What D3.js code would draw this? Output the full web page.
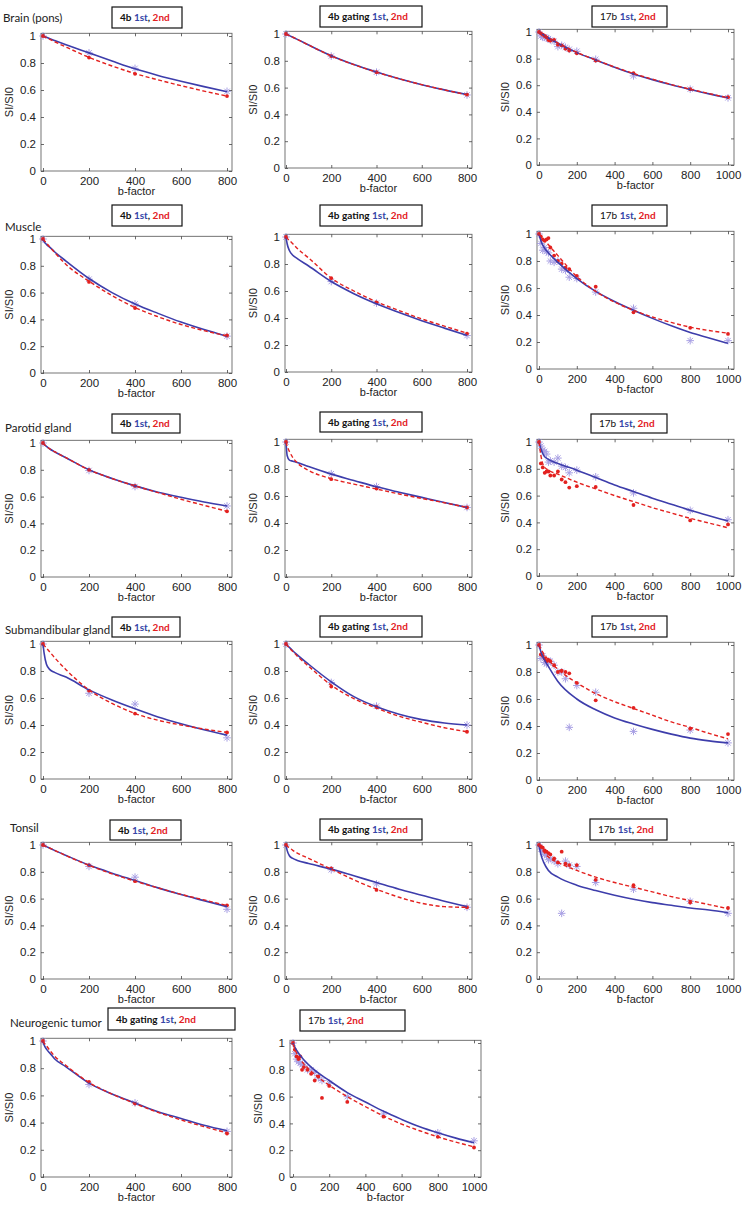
<!DOCTYPE html>
<html><head><meta charset="utf-8">
<script src="https://cdn.jsdelivr.net/npm/d3@7"></script>
<style>
body{margin:0;background:#fff;}
svg{display:block;}
</style></head>
<body>
<svg id="chart" width="744" height="1209"></svg>
<script>
// ---------- DATA ----------
const bPts4 = [0, 200, 400, 800];
const bPts17 = [0, 10, 20, 30, 40, 50, 60, 80, 100, 120, 140, 160, 200, 300, 500, 800, 1000];
const bFit4 = [0, 5, 15, 30, 50, 100, 200, 300, 400, 500, 600, 700, 800];
const bFit17 = [0, 10, 25, 50, 100, 200, 300, 400, 500, 600, 700, 800, 900, 1000];
const xTicks4 = [0, 200, 400, 600, 800];
const xTicks17 = [0, 200, 400, 600, 800, 1000];
const yTicks = [0, 0.2, 0.4, 0.6, 0.8, 1];
const rowLabels = ["Brain (pons)", "Muscle", "Parotid gland", "Submandibular gland", "Tonsil", "Neurogenic tumor"];
const protocolNames = ["4b", "4b gating", "17b"];

// Brain (pons)
const brain4b_1st_pts = [1, 0.875, 0.76, 0.59];
const brain4b_2nd_pts = [1, 0.84, 0.72, 0.555];
const brain4b_1st_fit = [1, .997, .99, .98, .967, .935, .875, .815, .757, .708, .665, .625, .588];
const brain4b_2nd_fit = [1, .996, .987, .975, .958, .918, .842, .778, .722, .675, .632, .592, .555];
const brain4bg_1st_pts = [1, 0.835, 0.715, 0.545];
const brain4bg_2nd_pts = [1, 0.835, 0.715, 0.548];
const brain4bg_1st_fit = [1, .996, .988, .976, .96, .918, .838, .772, .716, .666, .622, .583, .548];
const brain4bg_2nd_fit = [1, .996, .988, .976, .96, .918, .836, .771, .715, .666, .622, .583, .546];
const brain17b_1st_pts = [1, .97, .96, .96, .955, .95, .94, .93, .89, .9, .885, .87, .855, .795, .67, .57, .505];
const brain17b_2nd_pts = [1, .99, .98, .97, .96, .94, .935, .94, .905, .9, .875, .86, .84, .785, .69, .57, .51];
const brain17b_1st_fit = [1, .99, .977, .955, .915, .845, .79, .735, .685, .642, .603, .568, .535, .505];
const brain17b_2nd_fit = [1, .99, .978, .957, .917, .847, .79, .737, .688, .645, .605, .57, .537, .505];

// Muscle
const muscle4b_1st_pts = [1, 0.70, 0.515, 0.275];
const muscle4b_2nd_pts = [1, 0.68, 0.485, 0.28];
const muscle4b_1st_fit = [1, .98, .96, .937, .905, .835, .705, .6, .515, .445, .38, .325, .275];
const muscle4b_2nd_fit = [1, .99, .97, .94, .90, .81, .685, .578, .488, .42, .362, .316, .277];
const muscle4bg_1st_pts = [1, 0.67, 0.51, 0.27];
const muscle4bg_2nd_pts = [1, 0.695, 0.515, 0.285];
const muscle4bg_1st_fit = [1, .95, .9, .865, .84, .785, .67, .58, .505, .44, .38, .325, .272];
const muscle4bg_2nd_fit = [1, .99, .975, .95, .915, .845, .695, .6, .52, .455, .393, .34, .287];
const muscle17b_1st_pts = [1, .93, .88, .9, .87, .86, .8, .79, .8, .74, .73, .68, .67, .57, .45, .21, .21];
const muscle17b_2nd_pts = [1, .98, .96, .95, .96, .97, .9, .84, .8, .78, .75, .74, .69, .61, .42, .305, .26];
const muscle17b_1st_fit = [1, .95, .905, .86, .79, .67, .575, .5, .435, .375, .32, .27, .23, .19];
const muscle17b_2nd_fit = [1, .985, .96, .92, .84, .685, .575, .495, .435, .385, .345, .31, .285, .265];

// Parotid gland
const parotid4b_1st_pts = [1, 0.795, 0.675, 0.53];
const parotid4b_2nd_pts = [1, 0.80, 0.68, 0.49];
const parotid4b_1st_fit = [1, .99, .975, .955, .935, .89, .8, .735, .68, .633, .595, .56, .53];
const parotid4b_2nd_fit = [1, .99, .975, .955, .935, .89, .8, .735, .68, .63, .58, .535, .49];
const parotid4bg_1st_pts = [1, 0.765, 0.67, 0.515];
const parotid4bg_2nd_pts = [1, 0.725, 0.655, 0.515];
const parotid4bg_1st_fit = [1, .90, .866, .858, .848, .818, .762, .715, .668, .628, .59, .552, .515];
const parotid4bg_2nd_fit = [1, .97, .93, .885, .845, .79, .728, .688, .652, .615, .582, .55, .515];
const parotid17b_1st_pts = [1, .97, .94, .93, .91, .85, .86, .85, .88, .82, .81, .77, .79, .74, .62, .49, .42];
const parotid17b_2nd_pts = [1, .84, .81, .77, .78, .78, .75, .75, .78, .72, .70, .66, .67, .665, .53, .415, .385];
const parotid17b_1st_fit = [1, .95, .9, .87, .84, .79, .735, .68, .63, .58, .535, .49, .45, .41];
const parotid17b_2nd_fit = [1, .9, .82, .79, .76, .7, .65, .6, .555, .51, .47, .43, .395, .36];

// Submandibular gland
const submand4b_1st_pts = [1, 0.635, 0.555, 0.305];
const submand4b_2nd_pts = [1, 0.655, 0.485, 0.345];
const submand4b_1st_fit = [1, .93, .85, .81, .79, .755, .66, .585, .52, .46, .41, .365, .325];
const submand4b_2nd_fit = [1, .99, .97, .94, .9, .81, .66, .56, .485, .435, .4, .37, .345];
const submand4bg_1st_pts = [1, 0.715, 0.54, 0.40];
const submand4bg_2nd_pts = [1, 0.685, 0.535, 0.35];
const submand4bg_1st_fit = [1, .99, .975, .95, .92, .85, .72, .61, .535, .48, .44, .415, .40];
const submand4bg_2nd_fit = [1, .99, .97, .945, .91, .835, .695, .595, .525, .465, .42, .38, .35];
const submand17b_1st_pts = [1, .90, .92, .87, .86, .88, .88, .85, .80, .80, .75, .39, .70, .65, .36, .37, .275];
const submand17b_2nd_pts = [1, .93, .92, .90, .88, .89, .88, .85, .80, .81, .80, .79, .72, .59, .535, .38, .34];
const submand17b_1st_fit = [1, .95, .9, .84, .73, .6, .52, .46, .415, .375, .34, .31, .29, .275];
const submand17b_2nd_fit = [1, .97, .935, .89, .82, .72, .64, .58, .53, .48, .43, .39, .345, .305];

// Tonsil
const tonsil4b_1st_pts = [1, 0.84, 0.76, 0.52];
const tonsil4b_2nd_pts = [1, 0.85, 0.73, 0.55];
const tonsil4b_1st_fit = [1, .996, .988, .976, .96, .922, .85, .79, .735, .68, .63, .585, .54];
const tonsil4b_2nd_fit = [1, .996, .988, .976, .96, .921, .848, .785, .73, .68, .632, .59, .548];
const tonsil4bg_1st_pts = [1, 0.815, 0.71, 0.535];
const tonsil4bg_2nd_pts = [1, 0.825, 0.665, 0.535];
const tonsil4bg_1st_fit = [1, .96, .92, .9, .885, .862, .82, .77, .72, .67, .625, .58, .54];
const tonsil4bg_2nd_fit = [1, .99, .98, .96, .94, .9, .82, .74, .67, .61, .565, .54, .535];
const tonsil17b_1st_pts = [1, .97, .95, .93, .92, .89, .9, .88, .86, .49, .88, .85, .84, .72, .67, .58, .49];
const tonsil17b_2nd_pts = [1, .99, .98, .96, .95, .94, .93, .9, .87, .95, .86, .85, .85, .74, .7, .57, .53];
const tonsil17b_1st_fit = [1, .93, .87, .81, .76, .70, .66, .625, .595, .57, .55, .53, .515, .495];
const tonsil17b_2nd_fit = [1, .975, .95, .91, .87, .81, .76, .72, .685, .65, .615, .585, .555, .525];

// Neurogenic tumor
const neuro4bg_1st_pts = [1, 0.68, 0.545, 0.335];
const neuro4bg_2nd_pts = [1, 0.70, 0.54, 0.32];
const neuro4bg_1st_fit = [1, .97, .94, .91, .87, .81, .69, .61, .545, .48, .43, .38, .34];
const neuro4bg_2nd_fit = [1, .985, .965, .93, .89, .82, .695, .61, .54, .475, .42, .37, .325];
const neuro17b_1st_pts = [1, .92, .88, .86, .85, .84, .83, .8, .8, .78, .74, .72, .7, .6, .47, .33, .27];
const neuro17b_2nd_pts = [1, .95, .9, .88, .9, .8, .82, .8, .77, .72, .75, .59, .68, .56, .45, .3, .22];
const neuro17b_1st_fit = [1, .97, .935, .89, .82, .72, .63, .56, .49, .43, .375, .33, .29, .255];
const neuro17b_2nd_fit = [.99, .955, .91, .86, .79, .685, .6, .525, .455, .395, .345, .3, .26, .225];

// ---------- LAYOUT ----------
const colGeom = {
  c1: {x0: 43, xEnd: 227, fl: 41, fr: 232},
  c2: {x0: 286, xEnd: 467, fl: 285, fr: 472},
  c3: {x0: 539, xEnd: 728, fl: 537, fr: 734},
  c2n: {x0: 293, xEnd: 474, fl: 290, fr: 481}
};
const rowGeom = [
  [[36,171],[34,168],[32,165]],
  [[239,373],[237,372],[234,369]],
  [[443,577],[442,577],[442,576]],
  [[644,779],[644,779],[645,780]],
  [[845,979],[845,979],[845,979]],
  [[1041,1177],[1043,1177]]
];
const legendGeom = [
  [[112,7,70,21],[320,6,102,21],[592,6,75,21]],
  [[112,205,70,21],[320,205,102,21],[592,205,75,21]],
  [[112,414,68,19],[320,412,102,20],[591,414,76,19]],
  [[112,617,68,20],[320,616,102,21],[592,616,75,21]],
  [[110,820,71,20],[320,819,102,21],[590,819,77,21]],
  [[108,1008,127,22],[300,1010,105,21]]
];
const rowLabelGeom = [[3,22],[5,231],[5,432],[5,634],[10,832],[10,1027]];

const panels = [
  {row:0, col:0, cg:"c1", prot:0, b:bPts4, bf:bFit4, p1:brain4b_1st_pts, p2:brain4b_2nd_pts, f1:brain4b_1st_fit, f2:brain4b_2nd_fit},
  {row:0, col:1, cg:"c2", prot:1, b:bPts4, bf:bFit4, p1:brain4bg_1st_pts, p2:brain4bg_2nd_pts, f1:brain4bg_1st_fit, f2:brain4bg_2nd_fit},
  {row:0, col:2, cg:"c3", prot:2, b:bPts17, bf:bFit17, p1:brain17b_1st_pts, p2:brain17b_2nd_pts, f1:brain17b_1st_fit, f2:brain17b_2nd_fit},
  {row:1, col:0, cg:"c1", prot:0, b:bPts4, bf:bFit4, p1:muscle4b_1st_pts, p2:muscle4b_2nd_pts, f1:muscle4b_1st_fit, f2:muscle4b_2nd_fit},
  {row:1, col:1, cg:"c2", prot:1, b:bPts4, bf:bFit4, p1:muscle4bg_1st_pts, p2:muscle4bg_2nd_pts, f1:muscle4bg_1st_fit, f2:muscle4bg_2nd_fit},
  {row:1, col:2, cg:"c3", prot:2, b:bPts17, bf:bFit17, p1:muscle17b_1st_pts, p2:muscle17b_2nd_pts, f1:muscle17b_1st_fit, f2:muscle17b_2nd_fit},
  {row:2, col:0, cg:"c1", prot:0, b:bPts4, bf:bFit4, p1:parotid4b_1st_pts, p2:parotid4b_2nd_pts, f1:parotid4b_1st_fit, f2:parotid4b_2nd_fit},
  {row:2, col:1, cg:"c2", prot:1, b:bPts4, bf:bFit4, p1:parotid4bg_1st_pts, p2:parotid4bg_2nd_pts, f1:parotid4bg_1st_fit, f2:parotid4bg_2nd_fit},
  {row:2, col:2, cg:"c3", prot:2, b:bPts17, bf:bFit17, p1:parotid17b_1st_pts, p2:parotid17b_2nd_pts, f1:parotid17b_1st_fit, f2:parotid17b_2nd_fit},
  {row:3, col:0, cg:"c1", prot:0, b:bPts4, bf:bFit4, p1:submand4b_1st_pts, p2:submand4b_2nd_pts, f1:submand4b_1st_fit, f2:submand4b_2nd_fit},
  {row:3, col:1, cg:"c2", prot:1, b:bPts4, bf:bFit4, p1:submand4bg_1st_pts, p2:submand4bg_2nd_pts, f1:submand4bg_1st_fit, f2:submand4bg_2nd_fit},
  {row:3, col:2, cg:"c3", prot:2, b:bPts17, bf:bFit17, p1:submand17b_1st_pts, p2:submand17b_2nd_pts, f1:submand17b_1st_fit, f2:submand17b_2nd_fit},
  {row:4, col:0, cg:"c1", prot:0, b:bPts4, bf:bFit4, p1:tonsil4b_1st_pts, p2:tonsil4b_2nd_pts, f1:tonsil4b_1st_fit, f2:tonsil4b_2nd_fit},
  {row:4, col:1, cg:"c2", prot:1, b:bPts4, bf:bFit4, p1:tonsil4bg_1st_pts, p2:tonsil4bg_2nd_pts, f1:tonsil4bg_1st_fit, f2:tonsil4bg_2nd_fit},
  {row:4, col:2, cg:"c3", prot:2, b:bPts17, bf:bFit17, p1:tonsil17b_1st_pts, p2:tonsil17b_2nd_pts, f1:tonsil17b_1st_fit, f2:tonsil17b_2nd_fit},
  {row:5, col:0, cg:"c1", prot:1, b:bPts4, bf:bFit4, p1:neuro4bg_1st_pts, p2:neuro4bg_2nd_pts, f1:neuro4bg_1st_fit, f2:neuro4bg_2nd_fit},
  {row:5, col:1, cg:"c2n", prot:2, b:bPts17, bf:bFit17, p1:neuro17b_1st_pts, p2:neuro17b_2nd_pts, f1:neuro17b_1st_fit, f2:neuro17b_2nd_fit}
];

// ---------- DRAW ----------
const BLUE_LINE = "#3d3dab";
const BLUE_MARK = "#9a90e0";
const RED = "#e3211f";
const LEG_BLUE = "#3444a8";
const AXIS_FONT = "'Liberation Sans', Arial, sans-serif";
const LABEL_FONT = "Lato, 'Open Sans', sans-serif";

const svg = d3.select("#chart");

rowLabels.forEach((t, i) => {
  svg.append("text").attr("x", rowLabelGeom[i][0]).attr("y", rowLabelGeom[i][1])
    .attr("font-family", LABEL_FONT).attr("font-size", 11.5).attr("fill", "#222").text(t);
});

panels.forEach(p => {
  const cg = colGeom[p.cg];
  const [y1px, y0px] = rowGeom[p.row][p.col];
  const bMax = p.b[p.b.length - 1];
  const xTicks = bMax === 1000 ? xTicks17 : xTicks4;
  const x = d3.scaleLinear().domain([0, bMax]).range([cg.x0, cg.xEnd]);
  const y = d3.scaleLinear().domain([0, 1]).range([y0px, y1px]);
  const top = y(1.02), bot = y(0);
  const g = svg.append("g");

  g.append("rect").attr("x", cg.fl).attr("y", top).attr("width", cg.fr - cg.fl).attr("height", bot - top)
    .attr("fill", "#fff").attr("stroke", "#666").attr("stroke-width", 0.9);

  const xAxB = d3.axisBottom(x).tickValues(xTicks).tickSizeInner(-3).tickSizeOuter(0).tickPadding(6).tickFormat(d3.format("d"));
  const xAxT = d3.axisTop(x).tickValues(xTicks).tickSizeInner(-3).tickSizeOuter(0).tickFormat("");
  const yAxL = d3.axisLeft(y).tickValues(yTicks).tickSizeInner(-3).tickSizeOuter(0).tickPadding(5).tickFormat(d => d === 0 || d === 1 ? d3.format("d")(d) : d3.format(".1f")(d));
  const yAxR = d3.axisRight(y).tickValues(yTicks).tickSizeInner(-3).tickSizeOuter(0).tickFormat("");

  const ax = [
    g.append("g").attr("transform", `translate(0,${bot})`).call(xAxB),
    g.append("g").attr("transform", `translate(0,${top})`).call(xAxT),
    g.append("g").attr("transform", `translate(${cg.fl},0)`).call(yAxL),
    g.append("g").attr("transform", `translate(${cg.fr},0)`).call(yAxR)
  ];
  ax.forEach(a => {
    a.select(".domain").remove();
    a.selectAll("line").attr("stroke", "#444").attr("stroke-width", 0.8);
    a.selectAll("text").attr("font-family", AXIS_FONT).attr("font-size", 11.5).attr("fill", "#222");
  });

  g.append("text").attr("x", (cg.fl + cg.fr) / 2).attr("y", bot + 24).attr("text-anchor", "middle")
    .attr("font-family", AXIS_FONT).attr("font-size", 11).attr("fill", "#222").text("b-factor");
  g.append("text").attr("transform", `translate(${cg.fl - 28},${(top + bot) / 2}) rotate(-90)`)
    .attr("text-anchor", "middle").attr("font-family", AXIS_FONT).attr("font-size", 11).attr("fill", "#222").text("SI/SI0");

  const starPts = p.b.map((b, i) => [b, p.p1[i]]);
  const star = g.append("g").attr("stroke", BLUE_MARK).attr("stroke-width", 1).attr("opacity", 0.85);
  starPts.forEach(([b, v]) => {
    const cx = x(b), cy = y(v), r = 3.8, d = 2.7;
    star.append("path").attr("d",
      `M${cx - r},${cy}H${cx + r}M${cx},${cy - r}V${cy + r}M${cx - d},${cy - d}L${cx + d},${cy + d}M${cx - d},${cy + d}L${cx + d},${cy - d}`);
  });
  g.append("g").selectAll("circle").data(p.b.map((b, i) => [b, p.p2[i]])).join("circle")
    .attr("cx", d => x(d[0])).attr("cy", d => y(d[1])).attr("r", 1.9).attr("fill", RED);

  const line = d3.line().x(d => x(d[0])).y(d => y(d[1])).curve(d3.curveMonotoneX);
  g.append("path").attr("d", line(p.bf.map((b, i) => [b, p.f1[i]])))
    .attr("fill", "none").attr("stroke", BLUE_LINE).attr("stroke-width", 1.6);
  g.append("path").attr("d", line(p.bf.map((b, i) => [b, p.f2[i]])))
    .attr("fill", "none").attr("stroke", RED).attr("stroke-width", 1.4).attr("stroke-dasharray", "4,2.5");

  const [lx, ly, lw, lh] = legendGeom[p.row][p.col];
  svg.append("rect").attr("x", lx).attr("y", ly).attr("width", lw).attr("height", lh)
    .attr("fill", "#fff").attr("stroke", "#111").attr("stroke-width", 1.2);
  const t = svg.append("text").attr("x", lx + 8).attr("y", ly + lh / 2 + 3.5)
    .attr("font-family", LABEL_FONT).attr("font-weight", "bold").attr("font-size", 10);
  const pn = protocolNames[p.prot];
  t.append("tspan").attr("fill", "#111").attr("font-weight", p.prot === 2 ? "normal" : "bold").text(pn + " ");
  t.append("tspan").attr("fill", LEG_BLUE).text("1st");
  t.append("tspan").attr("fill", "#111").text(", ");
  t.append("tspan").attr("fill", RED).text("2nd");
});
</script>
</body></html>
